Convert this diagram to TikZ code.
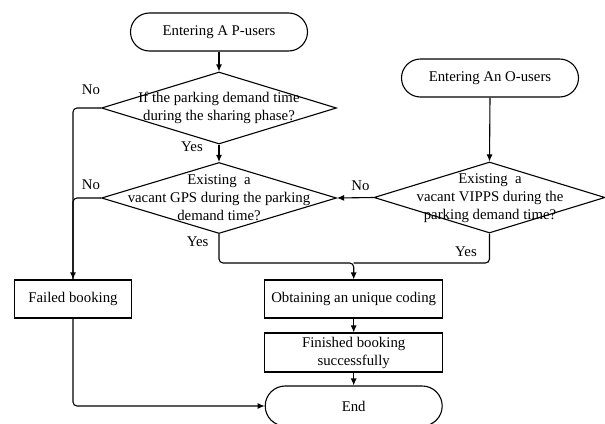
\documentclass[tikz,border=0pt]{standalone}
\usepackage{fontspec}
\setmainfont{Liberation Serif}
\usetikzlibrary{shapes.geometric,arrows.meta}
\begin{document}
\begin{tikzpicture}[x=1pt,y=-1pt,
  every node/.style={font=\fontsize{14.8}{18}\selectfont},
  term/.style={draw, line width=1.1pt, rectangle, rounded corners=19pt, minimum width=177pt, minimum height=38pt, inner sep=0pt},
  procbox/.style={draw, line width=1.1pt, rectangle, minimum width=178pt, minimum height=38pt, inner sep=0pt, align=center},
  decis/.style={draw, line width=1.1pt, diamond, minimum width=235pt, minimum height=71pt, inner sep=0pt},
  dtext/.style={align=center, inner sep=0pt},
  conn/.style={line width=1.1pt, rounded corners=4pt},
  arr/.style={conn, -{Latex[length=7pt,width=6pt]}},
  lbl/.style={inner sep=0pt}
]
\useasboundingbox (0,0) rectangle (605,423);
\node[term] (startA) at (219,32) {Entering A P-users};
\node[decis, minimum height=72pt] (d1) at (219,108) {};
\node[dtext] (d1t) at (219,108.3) {If the parking demand time\\during the sharing phase?};
\node[decis] (d2) at (219,198) {};
\node[dtext] (d2t) at (219,198) {Existing\ \ a\\vacant GPS during the parking\\demand time?};
\node[term] (startO) at (490,78) {Entering An O-users};
\node[decis, minimum width=231pt] (d3) at (489.5,197.5) {};
\node[dtext] (d3t) at (490,198.5) {Existing\ \ a\\vacant VIPPS during the\\parking demand time?};
\node[procbox, minimum width=117pt] (fail) at (73,299) {Failed booking};
\node[procbox] (obt) at (353.7,299) {Obtaining an unique coding};
\node[procbox, minimum height=39pt] (fin) at (353.7,352.5) {Finished booking\\successfully};
\node[term, minimum height=40pt, rounded corners=20pt] (endn) at (353.7,406) {End};
\coordinate (m) at (353.7,263);

\draw[arr] (startA.south) -- (d1.north);
\draw[arr] (d1.south) -- (d2.north);
\draw[arr] (d1.west) -| (fail.north);
\draw[conn] (d2.west) -| (fail.north);
\draw[arr] (startO.south) -- (d3.north);
\draw[arr] (d3.west) -- (d2.east);
\draw[arr] (d2.south) |- (m) -- (obt.north);
\draw[conn] (d3.south) |- (m);
\draw[arr] (obt.south) -- (fin.north);
\draw[arr] (fin.south) -- (endn.north);
\draw[arr] (fail.south) |- (endn.west);

\node[lbl] (no1) at (91,89.5) {No};
\node[lbl] (no2) at (91,185) {No};
\node[lbl] (no3) at (360.5,185.7) {No};
\node[lbl] (yes1) at (192,146.7) {Yes};
\node[lbl] (yes2) at (197.7,242) {Yes};
\node[lbl] (yes3) at (466,252) {Yes};
\end{tikzpicture}
\end{document}
